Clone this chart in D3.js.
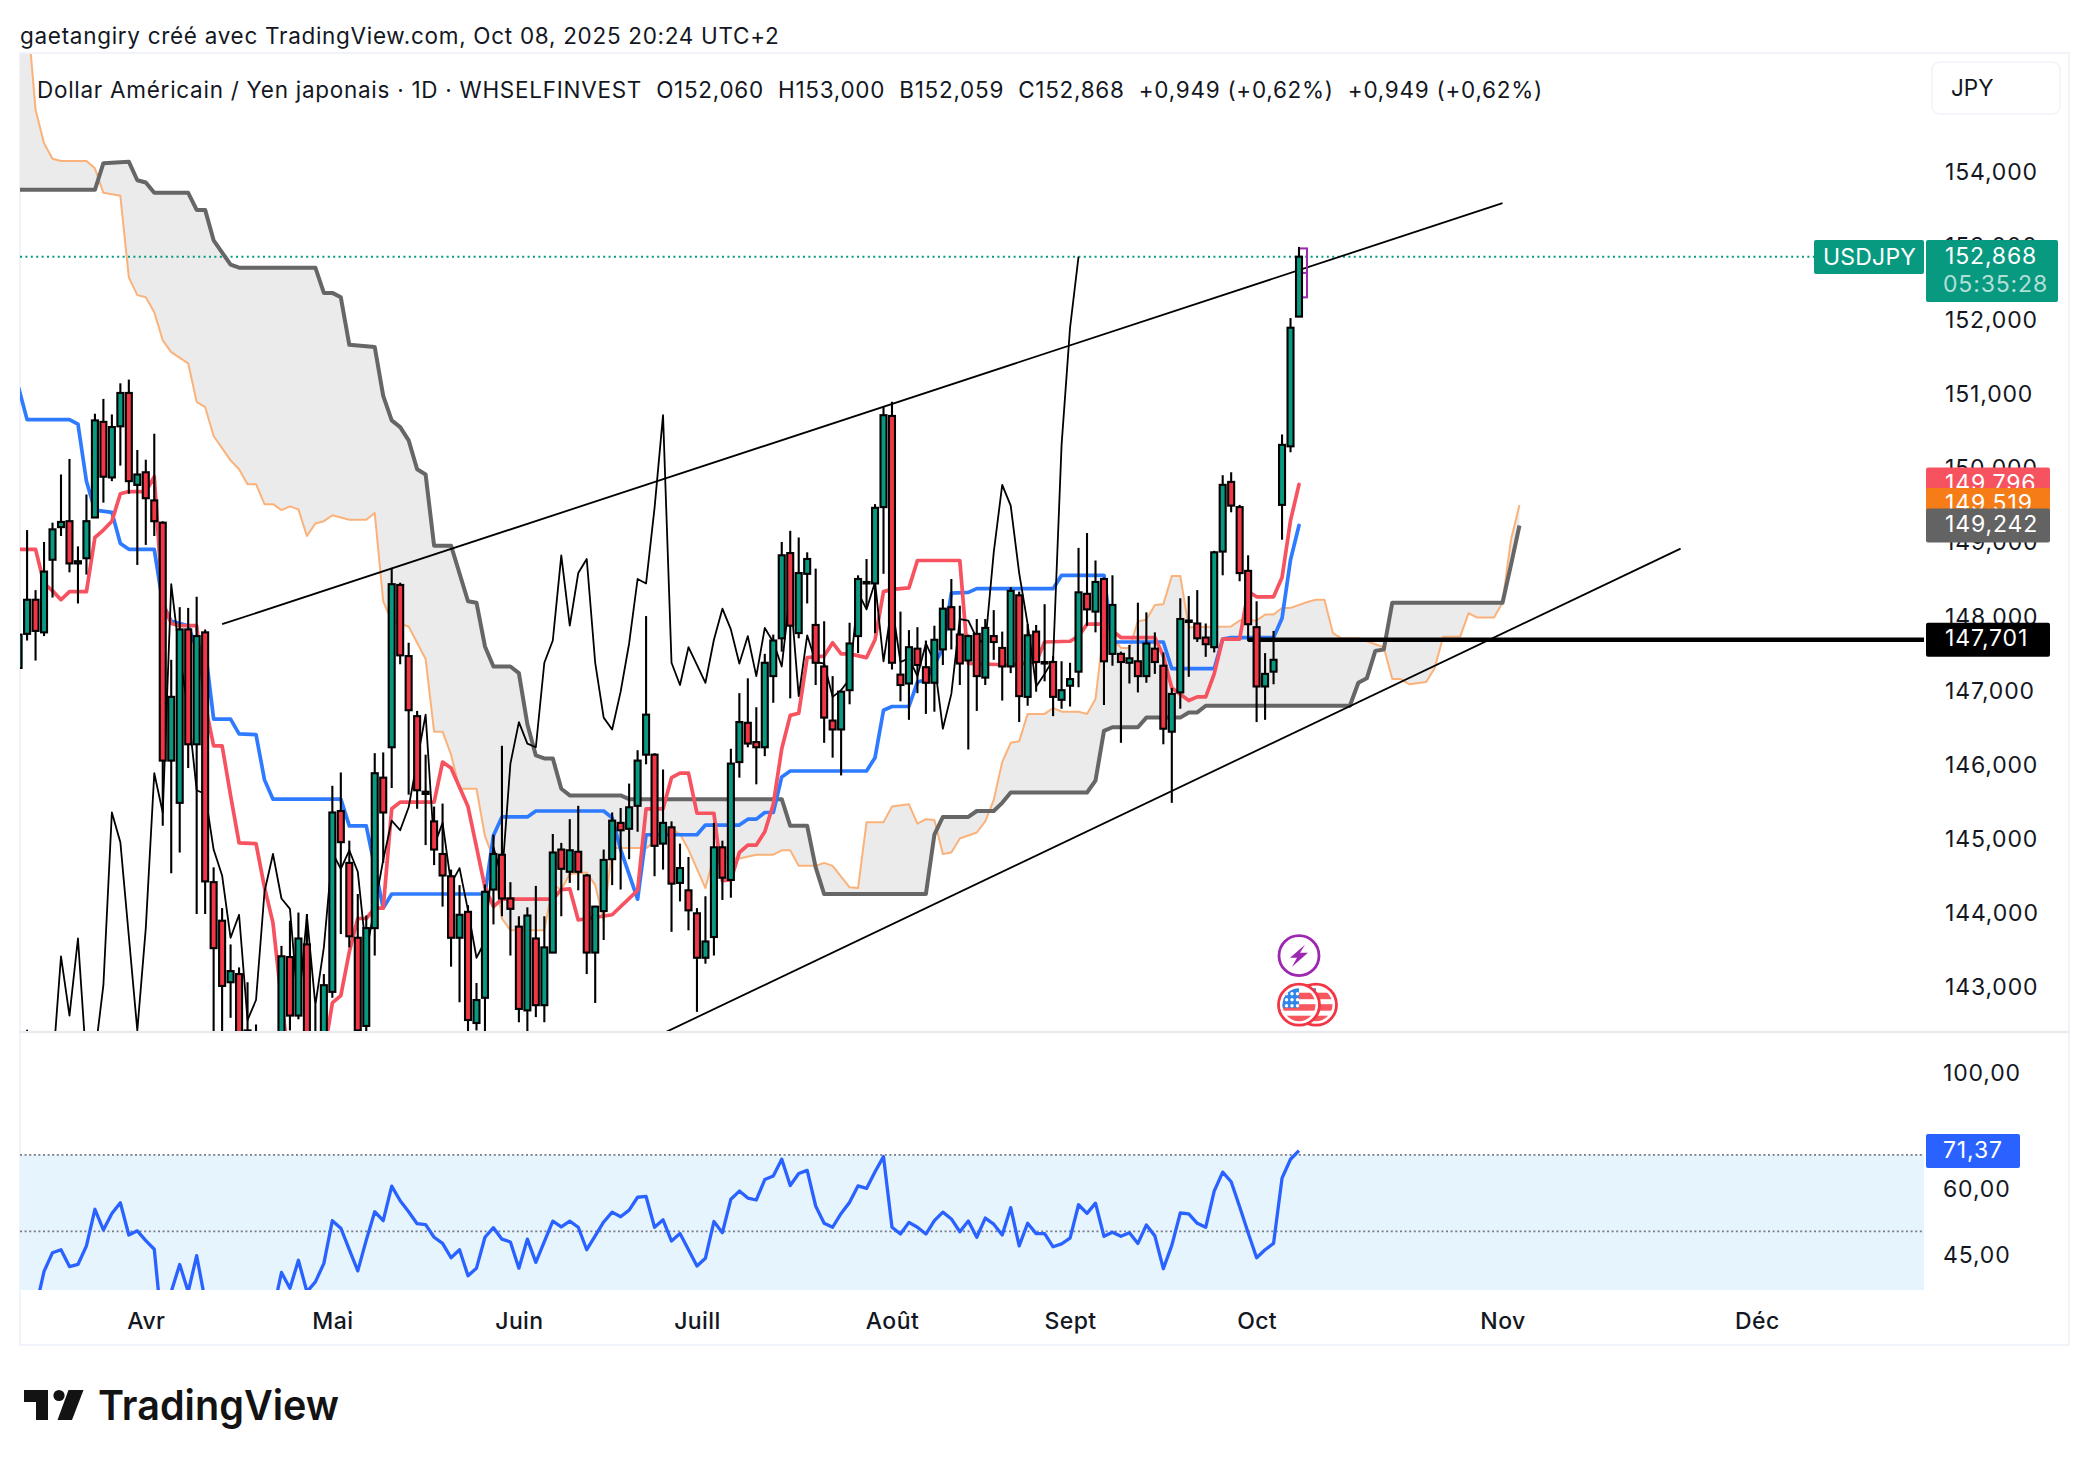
<!DOCTYPE html>
<html>
<head>
<meta charset="utf-8">
<script src="https://cdn.jsdelivr.net/npm/d3@7"></script>
<style>
  body { margin: 0; background: #fff; }
  text { font-family: Inter, "Noto Sans", sans-serif; }
</style>
</head>
<body>
<div id="chart"></div>
<script>
// Daily candles, one entry per trading day
const opens = [
  147.32,147.78,148.24,147.80,148.78,149.22,149.30,148.73,148.80,149.35,
  150.64,149.89,150.58,151.03,149.79,149.96,149.58,149.28,146.07,145.50,
  147.84,146.29,147.80,144.43,143.91,143.08,143.19,141.98,142.22,141.70,
  141.00,141.98,143.42,142.63,143.59,141.60,141.98,142.95,145.39,144.69,
  143.68,142.49,143.81,145.84,146.25,148.44,147.48,146.67,145.65,145.25,
  144.81,144.51,143.68,144.03,142.53,142.87,144.33,144.80,144.21,143.83,
  142.70,143.67,142.77,143.48,144.87,144.57,144.84,144.52,143.48,144.04,
  144.74,145.23,145.15,145.46,146.15,146.15,144.95,145.17,144.42,144.32,
  144.01,143.41,143.69,144.90,144.46,146.05,146.58,146.32,146.25,147.21,
  147.72,148.87,147.79,148.59,147.90,147.34,146.61,146.49,147.02,147.75,
  148.48,148.46,149.49,150.72,147.23,147.11,147.58,147.33,147.12,147.57,
  148.14,147.77,147.42,147.78,147.19,147.75,147.59,147.34,148.30,146.93,
  147.81,147.40,147.40,146.89,147.08,147.27,148.32,148.08,148.52,147.51,
  147.51,147.39,147.41,147.21,147.58,147.35,146.46,146.99,147.94,147.92,
  147.73,147.60,148.89,149.83,149.49,148.63,147.87,147.07,147.27,149.52,
  150.31,152.06];
const highs = [
  147.77,149.18,148.37,149.02,149.28,149.93,150.14,148.96,149.66,150.75,
  150.95,150.74,151.16,151.21,150.26,150.13,150.48,149.30,147.43,148.14,
  148.13,148.28,147.84,144.63,144.08,143.59,143.28,143.08,142.51,141.95,
  142.20,143.57,143.91,144.02,144.00,142.77,143.19,145.73,145.91,144.99,
  144.27,143.98,146.17,146.18,148.67,148.47,147.66,146.74,146.15,145.45,
  145.49,144.60,144.39,144.12,143.07,144.40,145.07,146.27,144.43,143.97,
  144.09,144.38,143.97,145.08,144.96,145.28,145.46,144.54,144.11,144.87,
  145.37,145.43,145.76,146.21,148.02,146.17,145.95,145.25,144.95,144.77,
  144.08,144.24,145.23,144.99,146.23,146.98,147.18,146.79,147.51,147.77,
  149.02,149.17,149.08,148.88,148.66,147.95,147.21,147.00,147.93,148.57,
  148.79,149.53,150.84,150.91,148.08,147.83,147.87,147.69,147.89,148.25,
  148.52,148.16,147.77,147.98,147.98,148.10,147.81,148.41,148.35,147.91,
  147.90,148.18,147.48,147.41,147.39,148.94,149.14,148.77,148.54,148.57,
  147.54,147.63,148.20,148.07,147.80,147.53,147.05,148.26,148.29,148.37,
  147.92,148.90,149.92,149.96,149.52,148.84,148.22,147.52,147.82,150.47,
  152.04,153.00];
const lows = [
  147.26,147.69,147.42,147.75,148.27,149.10,148.61,148.19,148.58,149.35,
  149.55,149.84,150.05,149.67,148.71,148.98,149.10,145.19,144.55,144.83,
  145.97,144.00,144.00,141.80,141.80,142.60,141.50,141.50,141.20,140.80,
  140.50,141.50,142.43,142.58,141.50,141.30,141.80,142.87,143.73,143.55,
  142.10,142.40,143.44,144.69,145.70,147.37,145.61,145.42,144.93,144.66,
  144.10,143.29,142.81,142.40,142.43,142.42,143.86,143.97,143.44,142.54,
  142.42,142.61,142.54,143.48,143.97,144.42,144.32,143.19,142.80,143.65,
  144.39,144.33,144.74,145.11,146.02,144.51,144.60,143.76,144.17,143.78,
  142.68,143.33,143.44,144.19,144.22,145.84,146.25,145.75,146.13,146.85,
  147.54,146.91,147.72,148.19,147.09,146.31,146.11,145.87,146.83,147.52,
  148.13,147.79,148.59,147.30,146.87,146.62,146.98,146.70,146.73,147.36,
  147.57,147.09,146.22,146.74,147.09,147.43,146.88,147.25,146.59,146.81,
  147.00,147.14,146.67,146.77,146.80,147.06,147.89,147.80,146.82,147.35,
  146.31,147.11,146.99,147.12,147.24,146.29,145.50,146.77,147.20,147.67,
  147.47,147.53,148.57,149.42,148.49,147.68,146.59,146.62,147.10,149.05,
  150.23,152.059];
const closes = [
  147.77,148.24,147.82,148.62,149.19,149.29,148.73,148.76,149.30,150.66,
  149.90,150.57,151.03,149.84,149.93,149.61,149.30,146.07,146.93,147.84,
  146.29,147.75,144.44,143.54,143.03,143.23,141.98,142.43,141.50,141.10,
  141.90,143.43,142.63,143.67,141.98,142.10,143.04,145.37,144.97,143.70,
  142.43,143.81,145.90,145.37,148.45,147.49,146.75,145.67,145.62,144.87,
  144.52,143.68,143.99,142.57,142.84,144.30,144.81,144.21,144.07,142.72,
  143.98,142.77,143.55,144.83,144.61,144.86,144.57,143.48,144.10,144.73,
  145.26,145.13,145.44,146.07,146.69,144.92,145.23,144.41,144.62,144.05,
  143.41,143.63,144.90,144.49,146.03,146.59,146.30,146.25,147.39,147.69,
  148.84,147.89,148.60,148.79,147.39,146.65,146.49,147.00,147.65,148.52,
  148.46,149.48,150.73,147.39,147.09,147.60,147.36,147.12,147.70,148.12,
  147.84,147.38,147.75,147.21,147.86,147.67,147.34,148.36,146.94,147.76,
  147.40,147.38,146.93,147.02,147.17,148.34,148.11,148.48,147.41,148.17,
  147.40,147.45,147.21,147.65,147.40,146.50,146.97,147.98,147.96,147.72,
  147.64,148.88,149.79,149.51,148.60,147.91,147.07,147.24,147.43,150.33,
  151.91,152.868];

// Ichimoku lines as [bar, price] where the line changes direction
const tenkan = [[0,148.92],[2,148.92],[3,148.46],[4,148.36],[5,148.24],[6,148.35],[8,148.35],[9,149.08],
  [10,149.18],[11,149.30],[12,149.67],[13,149.70],[15,149.70],[16,149.90],[17,148.19],[18,147.92],[19,147.89],
  [21,147.89],[22,146.83],[23,146.27],[24,146.27],[25,145.60],[26,144.96],[28,144.95],[29,144.36],[30,143.88],
  [31,142.83],[32,141.90],[36,142.10],[37,142.80],[38,142.90],[39,143.49],[40,143.94],[41,143.94],[42,144.08],
  [43,144.08],[44,145.42],[45,145.51],[49,145.51],[50,146.05],[51,145.97],[53,145.45],[55,144.36],[56,144.10],
  [57,144.20],[63,144.20],[64,144.33],[65,144.34],[66,143.92],[70,143.99],[73,144.32],[74,145.42],[76,145.42],
  [77,145.84],[78,145.90],[79,145.90],[80,145.36],[82,145.36],[83,144.45],[84,144.46],[85,144.83],[86,144.93],
  [87,144.93],[88,145.11],[89,145.48],[90,146.23],[91,146.68],[92,146.71],[93,147.46],[95,147.48],[96,147.66],
  [97,147.51],[98,147.51],[100,147.46],[101,147.70],[102,148.35],[103,148.38],[105,148.40],[106,148.77],[111,148.77],
  [112,147.38],[117,147.36],[120,147.40],[121,147.67],[124,147.68],[125,147.75],[126,147.91],[128,147.91],[130,147.73],
  [134,147.73],[135,147.48],[136,147.05],[138,146.88],[139,146.93],[140,146.93],[141,147.24],[142,147.71],[144,147.71],
  [145,148.35],[146,148.28],[148,148.28],[149,148.54],[150,149.31],[151,149.796]];
const kijun = [[0,151.10],[1,150.67],[6,150.67],[7,150.61],[8,149.84],[9,149.45],[11,149.42],[12,149.00],[13,148.92],
  [16,148.92],[17,148.19],[18,147.95],[20,147.89],[21,147.58],[22,147.58],[23,146.63],[25,146.63],[26,146.43],[28,146.42],
  [29,145.81],[30,145.55],[38,145.55],[39,145.19],[41,145.19],[43,144.08],[44,144.27],[55,144.27],[56,145.06],[57,145.31],
  [60,145.31],[61,145.39],[69,145.39],[70,145.30],[71,144.87],[73,144.20],[74,145.07],[80,145.07],[81,145.20],[85,145.20],
  [86,145.28],[87,145.28],[88,145.37],[89,145.37],[90,145.85],[91,145.93],[100,145.93],[101,146.11],[102,146.75],[103,146.80],
  [105,146.80],[106,147.13],[107,147.16],[108,147.37],[109,147.58],[110,148.33],[112,148.34],[113,148.39],[122,148.39],
  [123,148.57],[128,148.57],[129,147.67],[135,147.67],[136,147.31],[141,147.31],[142,147.71],[143,147.73],[148,147.73],
  [149,147.99],[150,148.78],[151,149.242]];
const senkouA = [[0,157.00],[1,156.20],[2,154.85],[3,154.40],[4,154.19],[5,154.16],[8,154.16],[9,154.06],[10,153.73],[12,153.69],
  [13,152.59],[14,152.35],[15,152.32],[16,152.12],[17,151.74],[18,151.58],[20,151.43],[21,150.91],[22,150.84],[23,150.45],
  [25,150.12],[26,150.00],[27,149.80],[28,149.80],[29,149.53],[30,149.53],[31,149.45],[32,149.50],[33,149.46],[34,149.10],
  [35,149.27],[36,149.30],[37,149.38],[39,149.32],[41,149.32],[42,149.41],[43,148.22],[44,147.95],[46,147.88],[48,147.44],
  [49,146.46],[50,146.46],[51,146.15],[52,145.69],[54,145.69],[55,145.05],[56,144.75],[57,143.94],[58,143.78],[62,143.78],
  [63,144.39],[64,144.33],[65,144.54],[67,144.56],[68,144.39],[69,143.91],[70,144.89],[74,144.89],[77,145.14],[78,145.08],
  [79,144.87],[81,144.35],[82,144.78],[85,144.75],[87,144.80],[89,144.80],[90,144.86],[91,144.86],[92,144.65],[94,144.65],
  [95,144.69],[96,144.65],[98,144.36],[99,144.35],[100,145.24],[102,145.24],[103,145.45],[105,145.48],[106,145.22],[107,145.28],
  [108,145.27],[109,144.81],[110,144.83],[111,145.02],[113,145.10],[114,145.25],[115,145.54],[116,146.05],[117,146.31],
  [118,146.33],[119,146.70],[121,146.70],[122,146.78],[123,146.73],[125,146.73],[126,146.70],[127,146.90],[128,147.87],
  [130,147.59],[131,147.59],[132,147.95],[133,147.97],[134,148.17],[135,148.18],[136,148.56],[137,148.56],[138,147.87],
  [143,147.88],[144,147.96],[146,147.96],[147,148.04],[148,148.04],[149,148.13],[150,148.13],[152,148.21],[153,148.24],
  [154,148.24],[155,147.79],[156,147.72],[158,147.72],[161,147.60],[162,147.17],[163,147.17],[164,147.10],[166,147.13],
  [167,147.32],[168,147.74],[170,147.74],[171,148.06],[172,148.00],[174,148.00],[175,148.20],[176,149.05],[177,149.519]];
const senkouB = [[0,153.77],[9,153.77],[10,154.13],[13,154.15],[14,153.90],[15,153.87],[16,153.73],[20,153.73],[21,153.50],
  [22,153.50],[23,153.09],[25,152.76],[26,152.72],[35,152.72],[36,152.38],[37,152.38],[38,152.32],[39,151.68],[42,151.65],
  [43,150.99],[44,150.66],[45,150.57],[46,150.39],[47,150.00],[48,149.93],[49,148.97],[51,148.97],[53,148.22],[54,148.20],
  [55,147.61],[56,147.34],[58,147.34],[59,147.25],[60,146.56],[61,146.14],[62,146.10],[63,146.10],[64,145.69],[65,145.60],
  [71,145.60],[72,145.55],[90,145.55],[91,145.19],[93,145.19],[94,144.63],[95,144.27],[107,144.27],[108,145.07],[109,145.31],
  [112,145.31],[113,145.39],[115,145.39],[116,145.50],[117,145.64],[126,145.64],[127,145.80],[128,146.47],[129,146.52],
  [132,146.52],[133,146.65],[137,146.65],[138,146.72],[139,146.72],[140,146.81],[157,146.81],[158,147.12],[159,147.18],
  [160,147.55],[161,147.57],[162,148.20],[175,148.20],[176,148.71],[177,149.242]];

// Hand drawn lines on the chart
const upperTrend = [[24,147.91],[175,153.59]];
const lowerTrend = [[76,142.39],[196,148.93]];
const supportLevel = 147.701;
const supportStart = 145;
const lastPrice = 152.868;

// RSI per bar
const rsi = [
  33,34,35.5,41.9,45.5,46.1,42.8,43.2,46.9,55.1,
  50.3,54.1,56.7,49.2,50.1,48.0,46.2,31.6,38.3,43.2,
  38.3,44.9,36.8,34,32,33,32,33,31,30,
  35,41.7,38.9,44.0,38.3,40.0,43.4,52.4,50.7,46.1,
  42.0,48.1,54.5,52.4,61.0,57.2,54.5,51.7,51.5,48.7,
  47.4,44.5,46.1,41.1,42.5,48.7,50.8,48.3,47.7,42.5,
  48.3,43.6,47.8,52.3,51.0,52.3,50.9,46.1,49.0,52.1,
  54.4,53.3,54.9,58.1,58.3,50.9,52.6,47.9,49.5,46.1,
  42.9,44.4,52.2,49.7,57.6,59.7,57.9,57.4,62.8,63.8,
  68.7,61.2,64.5,65.4,55.9,51.8,50.9,54.1,56.8,61.1,
  60.4,65.0,69.5,50.9,49.4,52.0,50.9,49.4,52.4,54.4,
  52.8,49.9,52.3,48.7,53.0,51.6,49.2,55.5,46.9,51.8,
  49.5,49.5,46.7,47.3,48.5,56.2,54.1,56.6,48.9,49.8,
  48.9,49.7,47.4,51.4,49.0,42.4,47.0,54.2,54.0,51.8,
  50.9,59.7,64.9,62.2,55.7,49.7,44.5,46.1,47.4,63.2,
  68.7,71.37];
const rsiBands = [70, 50, 30];

// Axis labels
const priceTicks = [143,144,145,146,147,148,149,150,151,152,153,154];
const rsiTicks = [100, 60, 45];
const monthBars = [15,37,59,80,103,124,146,175,205];
const monthLabels = ["Avr","Mai","Juin","Juill","Août","Sept","Oct","Nov","Déc"];
const lastLabels = [
  { value: 149.796, color: "#f7525f" },
  { value: 149.519, color: "#f57c17" },
  { value: 149.242, color: "#636363" },
  { value: 147.701, color: "#000000" }
];
const titleText = "gaetangiry créé avec TradingView.com, Oct 08, 2025 20:24 UTC+2";
const legendText = "Dollar Américain / Yen japonais · 1D · WHSELFINVEST\u00a0\u00a0O152,060\u00a0\u00a0H153,000\u00a0\u00a0B152,059\u00a0\u00a0C152,868\u00a0\u00a0+0,949 (+0,62%)\u00a0\u00a0+0,949 (+0,62%)";

const width = 2088, height = 1466;
const paneLeft = 20, paneRight = 1924, mainTop = 54, mainBottom = 1031, rsiBottom = 1290, frameRight = 2069, frameBottom = 1345;
const green = "#089981", red = "#f23645", border = "#f0f3fa";

const svg = d3.select("#chart").append("svg")
    .attr("width", width)
    .attr("height", height)
    .style("display", "block");

// Scales
const x = d3.scaleLinear().domain([0, 151]).range([18.6, 1299]);
const y = d3.scaleLinear().domain([142.422, 155.603]).range([mainBottom, mainTop]);
const yRsi = d3.scaleLog().domain([38.6, 120.9]).range([rsiBottom, mainBottom]);

const defs = svg.append("defs");
defs.append("clipPath").attr("id", "mainClip").append("rect")
    .attr("x", paneLeft).attr("y", mainTop).attr("width", paneRight - paneLeft).attr("height", mainBottom - mainTop);
defs.append("clipPath").attr("id", "rsiClip").append("rect")
    .attr("x", paneLeft).attr("y", mainBottom).attr("width", paneRight - paneLeft).attr("height", rsiBottom - mainBottom);

// Frame
svg.append("rect")
    .attr("x", paneLeft).attr("y", mainTop - 1)
    .attr("width", frameRight - paneLeft).attr("height", frameBottom - mainTop + 1)
    .attr("fill", "none").attr("stroke", border).attr("stroke-width", 2);
svg.append("line")
    .attr("x1", paneLeft).attr("x2", frameRight)
    .attr("y1", mainBottom + 1).attr("y2", mainBottom + 1)
    .attr("stroke", "#e9ebf0").attr("stroke-width", 2.5);

const main = svg.append("g").attr("clip-path", "url(#mainClip)");
const toLine = d3.line().x(d => x(d[0])).y(d => y(d[1]));

// Cloud
main.append("path")
    .attr("d", toLine(senkouA.concat(senkouB.slice().reverse())) + "Z")
    .attr("fill", "#ebebeb");

// Last price line
main.append("line")
    .attr("x1", paneLeft).attr("x2", 1814)
    .attr("y1", y(lastPrice)).attr("y2", y(lastPrice))
    .attr("stroke", green).attr("stroke-width", 2).attr("stroke-dasharray", "2 3.4");

// Ichimoku lines
main.append("path").attr("d", toLine(senkouA)).attr("fill", "none")
    .attr("stroke", "#fbb27a").attr("stroke-width", 2).attr("stroke-linejoin", "round");
main.append("path").attr("d", toLine(senkouB)).attr("fill", "none")
    .attr("stroke", "#666666").attr("stroke-width", 4).attr("stroke-linejoin", "round");
main.append("path").attr("d", toLine(kijun)).attr("fill", "none")
    .attr("stroke", "#2e7bff").attr("stroke-width", 3.7).attr("stroke-linejoin", "round").attr("stroke-linecap", "round");
main.append("path").attr("d", toLine(tenkan)).attr("fill", "none")
    .attr("stroke", "#f7525f").attr("stroke-width", 3.7).attr("stroke-linejoin", "round").attr("stroke-linecap", "round");

// Lagging span is the close moved back 26 bars
main.append("path")
    .attr("d", toLine(closes.slice(26).map((c, i) => [i, c])))
    .attr("fill", "none").attr("stroke", "#000").attr("stroke-width", 1.8).attr("stroke-linejoin", "round");

// Trend lines and support
[upperTrend, lowerTrend].forEach(t => {
    main.append("path").attr("d", toLine(t)).attr("fill", "none").attr("stroke", "#000").attr("stroke-width", 1.8);
});
main.append("line")
    .attr("x1", x(supportStart)).attr("x2", paneRight)
    .attr("y1", y(supportLevel)).attr("y2", y(supportLevel))
    .attr("stroke", "#000").attr("stroke-width", 4.4);

// Small box next to the last candle
const lastBar = closes.length - 1;
main.append("rect")
    .attr("x", x(lastBar)).attr("width", x(lastBar + 1) - x(lastBar) - 0.5)
    .attr("y", y(152.98)).attr("height", y(152.32) - y(152.98))
    .attr("fill", "none").attr("stroke", "#9c27b0").attr("stroke-width", 2);
main.append("line")
    .attr("x1", x(lastBar)).attr("x2", x(lastBar + 1) - 0.5)
    .attr("y1", y(152.65)).attr("y2", y(152.65))
    .attr("stroke", "#9c27b0").attr("stroke-width", 2);

// Candles
const candles = main.append("g").selectAll("g")
    .data(closes.map((c, i) => ({ i, o: opens[i], h: highs[i], l: lows[i], c })))
    .join("g");
candles.append("line")
    .attr("x1", d => x(d.i)).attr("x2", d => x(d.i))
    .attr("y1", d => y(d.h)).attr("y2", d => y(d.l))
    .attr("stroke", "#000").attr("stroke-width", 2.1);
candles.append("rect")
    .attr("x", d => x(d.i) - 3)
    .attr("width", 6)
    .attr("y", d => y(Math.max(d.o, d.c)))
    .attr("height", d => Math.max(1, Math.abs(y(d.o) - y(d.c))))
    .attr("fill", d => d.c >= d.o ? green : red)
    .attr("stroke", "#000").attr("stroke-width", 2.1);

// Event markers over the last candle
const markers = svg.append("g");
const boltY = 955.7, flagY = 1004.7;
markers.append("circle").attr("cx", x(lastBar)).attr("cy", boltY).attr("r", 20)
    .attr("fill", "#fff").attr("stroke", "#9c27b0").attr("stroke-width", 2.8);
markers.append("path")
    .attr("transform", `translate(${x(lastBar)},${boltY})`)
    .attr("d", "M6,-11 L-9,2 L-2,2 L-7,11 L9,-3 L1,-3 Z")
    .attr("fill", "#9c27b0");
[x(lastBar) + 17, x(lastBar)].forEach((cx, n) => {
    const id = "flag" + n;
    defs.append("clipPath").attr("id", id).append("circle").attr("cx", cx).attr("cy", flagY).attr("r", 16.5);
    markers.append("circle").attr("cx", cx).attr("cy", flagY).attr("r", 20.5)
        .attr("fill", "#fff").attr("stroke", red).attr("stroke-width", 2.8);
    const flag = markers.append("g").attr("clip-path", `url(#${id})`);
    flag.append("rect").attr("x", cx - 17).attr("y", flagY - 17).attr("width", 34).attr("height", 34).attr("fill", "#fff");
    d3.range(3).forEach(s => {
        flag.append("rect").attr("x", cx - 17).attr("y", flagY - 12 + s * 11.5)
            .attr("width", 34).attr("height", 6.5).attr("fill", "#f7585f");
    });
    flag.append("rect").attr("x", cx - 17).attr("y", flagY - 17).attr("width", 17).attr("height", 20).attr("fill", "#2e86e8");
    d3.range(3).forEach(r => d3.range(3).forEach(c => {
        flag.append("circle").attr("cx", cx - 12.5 + c * 5.5).attr("cy", flagY - 11 + r * 6).attr("r", 1.7).attr("fill", "#fff");
    }));
});

// RSI pane
const rsiPane = svg.append("g").attr("clip-path", "url(#rsiClip)");
rsiPane.append("rect")
    .attr("x", paneLeft).attr("width", paneRight - paneLeft)
    .attr("y", yRsi(rsiBands[0])).attr("height", yRsi(rsiBands[2]) - yRsi(rsiBands[0]))
    .attr("fill", "#e6f4fe");
rsiBands.slice(0, 2).forEach(b => {
    rsiPane.append("line")
        .attr("x1", paneLeft).attr("x2", paneRight)
        .attr("y1", yRsi(b)).attr("y2", yRsi(b))
        .attr("stroke", "#787b86").attr("stroke-width", 1.8).attr("stroke-dasharray", "2 2.6");
});
rsiPane.append("path")
    .attr("d", d3.line().x((d, i) => x(i)).y(d => yRsi(d))(rsi))
    .attr("fill", "none").attr("stroke", "#2962ff").attr("stroke-width", 3.3).attr("stroke-linejoin", "round");

// Axes
function cleanAxis(g, size, weight, spacing) {
    g.select(".domain").remove();
    g.selectAll(".tick line").remove();
    g.selectAll("text")
        .attr("fill", "#131722")
        .style("font-family", 'Inter, "Noto Sans", sans-serif')
        .style("font-size", size + "px")
        .style("font-weight", weight)
        .style("letter-spacing", spacing + "px");
}
const fr = (v, digits) => d3.format("." + digits + "f")(v).replace(".", ",");

svg.append("g")
    .attr("transform", `translate(${paneRight},0)`)
    .call(d3.axisRight(y).tickValues(priceTicks).tickSize(0).tickPadding(21).tickFormat(d => fr(d, 3)))
    .call(g => cleanAxis(g, 23, 400, 0.85))
    .selectAll("text").attr("dy", "0.28em");
svg.append("g")
    .attr("transform", `translate(${paneRight},0)`)
    .call(d3.axisRight(yRsi).tickValues(rsiTicks).tickSize(0).tickPadding(19).tickFormat(d => fr(d, 2)))
    .call(g => cleanAxis(g, 23, 400, 0.85))
    .selectAll("text").attr("dy", "0.3em");
svg.append("g")
    .attr("transform", `translate(0,1313)`)
    .call(d3.axisBottom(x).tickValues(monthBars).tickSize(0).tickPadding(0).tickFormat((d, i) => monthLabels[i]))
    .call(g => cleanAxis(g, 23, 500, 0.4));

// Last value labels
function valueLabel(top, left, w, h, color, label, textY, textX, spacing = 0.85) {
    svg.append("rect").attr("x", left).attr("y", top).attr("width", w).attr("height", h).attr("rx", 2).attr("fill", color);
    svg.append("text").attr("x", textX).attr("y", textY).attr("fill", "#fff")
        .attr("font-size", 23).attr("letter-spacing", spacing).attr("dominant-baseline", "central").text(label);
}
lastLabels.forEach(d => {
    const cy = y(d.value);
    valueLabel(cy - 17, 1926, 124, 34, d.color, fr(d.value, 3), cy - 1.5, 1945);
});
valueLabel(240, 1814, 110, 34, green, "USDJPY", 256.5, 1823, 0.2);
valueLabel(240, 1926, 132, 62, green, fr(lastPrice, 3), 255.5, 1945);
svg.append("text").attr("x", 1943).attr("y", 283.5).attr("fill", "#fff").attr("fill-opacity", 0.7)
    .attr("font-size", 23).attr("letter-spacing", 0.85).attr("dominant-baseline", "central").text("05:35:28");
valueLabel(1134, 1926, 94, 34, "#2962ff", fr(rsi[lastBar], 2), 1149.5, 1943);

// Currency button
svg.append("rect").attr("x", 1932).attr("y", 62).attr("width", 128).attr("height", 52).attr("rx", 8)
    .attr("fill", "#fff").attr("stroke", border).attr("stroke-width", 1.5);
svg.append("text").attr("x", 1951).attr("y", 87).attr("font-size", 22.5).attr("fill", "#131722")
    .attr("dominant-baseline", "central").text("JPY");

// Header
svg.append("text").attr("x", 20).attr("y", 35).attr("font-size", 22.5).attr("letter-spacing", 0.7).attr("fill", "#131722")
    .attr("dominant-baseline", "central").text(titleText);
svg.append("text").attr("x", 37).attr("y", 89).attr("font-size", 22.5).attr("letter-spacing", 0.72).attr("fill", "#131722")
    .attr("dominant-baseline", "central").text(legendText);

// Logo
const logo = svg.append("g").attr("fill", "#131313");
logo.append("path").attr("d", "M24,1390 H48 V1420 H36 V1402 H24 Z");
logo.append("circle").attr("cx", 59).attr("cy", 1395.5).attr("r", 5.6);
logo.append("path").attr("d", "M68.5,1390 H83.5 L72,1420 H57.5 Z");
logo.append("text").attr("x", 98).attr("y", 1420).attr("font-size", 41).attr("font-weight", 600)
    .attr("textLength", 241).attr("lengthAdjust", "spacingAndGlyphs").text("TradingView");
</script>
</body>
</html>
